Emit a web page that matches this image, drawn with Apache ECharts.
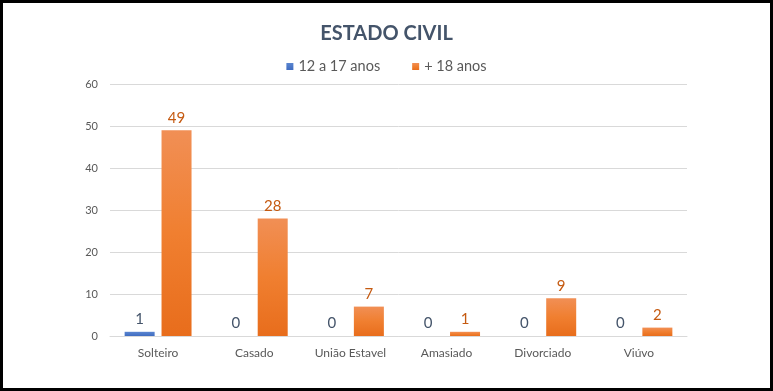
<!DOCTYPE html>
<html>
<head>
<meta charset="utf-8">
<script src="https://cdn.jsdelivr.net/npm/echarts@6/dist/echarts.min.js"></script>
<style>
html,body{margin:0;padding:0;background:#000;width:773px;height:391px;overflow:hidden;}
#c{position:absolute;left:3px;top:3px;width:767px;height:385px;background:#fff;}
</style>
</head>
<body>
<div id="c"></div>
<script>
const categories = ['Solteiro', 'Casado', 'União Estavel', 'Amasiado', 'Divorciado', 'Viúvo'];
const seriesNames = ['12 a 17 anos', '+ 18 anos'];
const teen = [1, 0, 0, 0, 0, 0];
const adult = [49, 28, 7, 1, 9, 2];
const yTicks = [0, 10, 20, 30, 40, 50, 60];

const chart = echarts.init(document.getElementById('c'), null, {renderer: 'canvas'});
const font = 'Lato, "Open Sans", sans-serif';
chart.setOption({
  animation: false,
  backgroundColor: '#fff',
  color: ['#4472C4', '#ED7D31'],
  title: {
    text: 'ESTADO CIVIL',
    left: 'center',
    top: 16,
    textStyle: {fontFamily: font, fontWeight: 'bold', fontSize: 20, color: '#44546A'}
  },
  legend: {
    data: seriesNames,
    top: 51,
    left: 'center',
    itemWidth: 7,
    itemHeight: 7,
    itemGap: 32,
    icon: 'rect',
    textStyle: {fontFamily: font, fontSize: 14.5, color: '#595959'}
  },
  grid: {left: 107, right: 83, top: 81, bottom: 52, containLabel: false},
  xAxis: {
    type: 'category',
    data: categories,
    axisLine: {lineStyle: {color: '#D9D9D9'}},
    axisTick: {show: false},
    axisLabel: {fontFamily: font, fontSize: 12, color: '#595959', margin: 11}
  },
  yAxis: {
    type: 'value',
    min: yTicks[0],
    max: yTicks[yTicks.length - 1],
    interval: 10,
    axisLine: {show: false},
    axisTick: {show: false},
    splitLine: {lineStyle: {color: '#D9D9D9'}},
    axisLabel: {fontFamily: font, fontSize: 11, color: '#595959', margin: 12}
  },
  series: [
    {
      name: seriesNames[0],
      type: 'bar',
      data: teen,
      barWidth: 30,
      barGap: '23%',
      itemStyle: {color: new echarts.graphic.LinearGradient(0, 0, 0, 1, [{offset: 0, color: '#5A85D0'}, {offset: 1, color: '#3F6CC0'}])},
      label: {show: true, position: 'top', distance: 5, fontFamily: font, fontSize: 15, color: '#44546A'}
    },
    {
      name: seriesNames[1],
      type: 'bar',
      data: adult,
      barWidth: 30,
      itemStyle: {color: new echarts.graphic.LinearGradient(0, 0, 0, 1, [{offset: 0, color: '#F18F55'}, {offset: 0.5, color: '#F07F30'}, {offset: 1, color: '#E86D1C'}])},
      label: {show: true, position: 'top', distance: 5, fontFamily: font, fontSize: 15, color: '#C55A11'}
    }
  ]
});
</script>
</body>
</html>
